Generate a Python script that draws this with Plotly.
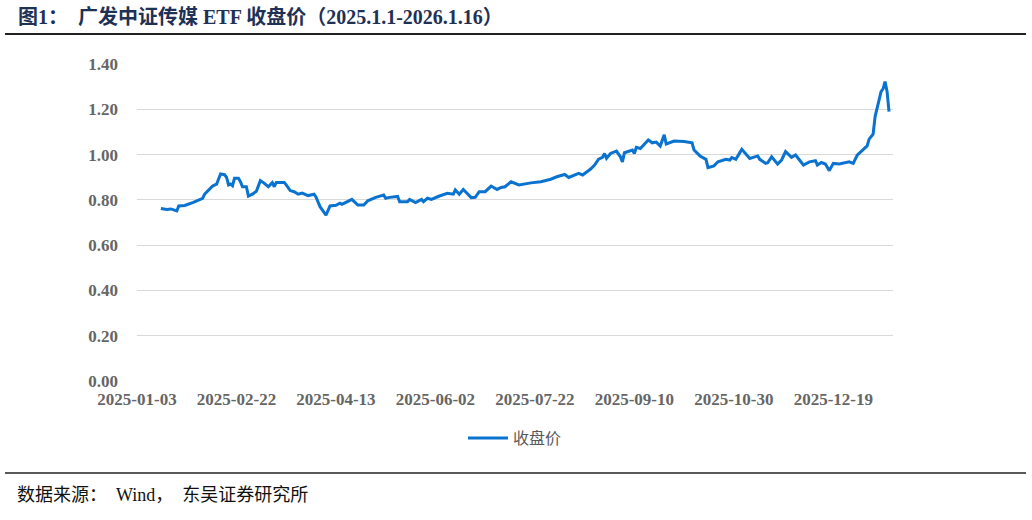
import plotly.graph_objects as go

# ---- data ----
dates = [
    "2025-01-15", "2025-01-18", "2025-01-20", "2025-01-23", "2025-01-24", "2025-01-27", "2025-01-31",
    "2025-02-05", "2025-02-06", "2025-02-10", "2025-02-12", "2025-02-14", "2025-02-16", "2025-02-17",
    "2025-02-18", "2025-02-19", "2025-02-20", "2025-02-21", "2025-02-23", "2025-02-24", "2025-02-25",
    "2025-02-27", "2025-02-28", "2025-03-02", "2025-03-04", "2025-03-06", "2025-03-08", "2025-03-10",
    "2025-03-12", "2025-03-13", "2025-03-14", "2025-03-18", "2025-03-19", "2025-03-21", "2025-03-23",
    "2025-03-25", "2025-03-27", "2025-03-30", "2025-04-02", "2025-04-03", "2025-04-05", "2025-04-08",
    "2025-04-10", "2025-04-13", "2025-04-15", "2025-04-16", "2025-04-18", "2025-04-21", "2025-04-24",
    "2025-04-27", "2025-04-29", "2025-05-03", "2025-05-07", "2025-05-08", "2025-05-10", "2025-05-14",
    "2025-05-15", "2025-05-19", "2025-05-20", "2025-05-23", "2025-05-26", "2025-05-27", "2025-05-29",
    "2025-05-31", "2025-06-04", "2025-06-08", "2025-06-11", "2025-06-12", "2025-06-14", "2025-06-16",
    "2025-06-20", "2025-06-22", "2025-06-24", "2025-06-27", "2025-06-30", "2025-07-03", "2025-07-05",
    "2025-07-07", "2025-07-10", "2025-07-12", "2025-07-14", "2025-07-20", "2025-07-25", "2025-07-30",
    "2025-08-02", "2025-08-06", "2025-08-08", "2025-08-13", "2025-08-15", "2025-08-19", "2025-08-21",
    "2025-08-23", "2025-08-25", "2025-08-26", "2025-08-27", "2025-08-29", "2025-09-01", "2025-09-03",
    "2025-09-04", "2025-09-05", "2025-09-09", "2025-09-10", "2025-09-11", "2025-09-13", "2025-09-15",
    "2025-09-17", "2025-09-19", "2025-09-21", "2025-09-23", "2025-09-25", "2025-09-26", "2025-09-30",
    "2025-10-05", "2025-10-09", "2025-10-10", "2025-10-13", "2025-10-16", "2025-10-17", "2025-10-20",
    "2025-10-22", "2025-10-26", "2025-10-28", "2025-10-29", "2025-10-31", "2025-11-03", "2025-11-05",
    "2025-11-07", "2025-11-11", "2025-11-12", "2025-11-15", "2025-11-16", "2025-11-18", "2025-11-21",
    "2025-11-23", "2025-11-25", "2025-11-28", "2025-11-30", "2025-12-04", "2025-12-07", "2025-12-10",
    "2025-12-11", "2025-12-13", "2025-12-15", "2025-12-17", "2025-12-19", "2025-12-22", "2025-12-27",
    "2025-12-29", "2025-12-31", "2026-01-05", "2026-01-06", "2026-01-08", "2026-01-09", "2026-01-12",
    "2026-01-13", "2026-01-14", "2026-01-15", "2026-01-16",
]
close_price = [
    0.762, 0.758, 0.760, 0.751, 0.773, 0.775, 0.788,
    0.807, 0.825, 0.861, 0.869, 0.914, 0.911, 0.900,
    0.866, 0.870, 0.862, 0.895, 0.895, 0.880, 0.858,
    0.858, 0.817, 0.825, 0.838, 0.885, 0.873, 0.858,
    0.876, 0.858, 0.877, 0.877, 0.866, 0.841, 0.836,
    0.825, 0.830, 0.819, 0.825, 0.812, 0.770, 0.732,
    0.773, 0.776, 0.785, 0.780, 0.789, 0.802, 0.777,
    0.777, 0.796, 0.811, 0.821, 0.807, 0.811, 0.815,
    0.792, 0.792, 0.802, 0.788, 0.802, 0.792, 0.807,
    0.802, 0.817, 0.829, 0.825, 0.844, 0.825, 0.846,
    0.810, 0.811, 0.836, 0.836, 0.861, 0.846, 0.855,
    0.858, 0.880, 0.873, 0.866, 0.875, 0.880, 0.891,
    0.902, 0.912, 0.899, 0.917, 0.910, 0.936, 0.954,
    0.980, 0.988, 1.005, 0.983, 1.005, 1.015, 0.990,
    0.968, 1.008, 1.020, 1.005, 1.032, 1.027, 1.047,
    1.064, 1.052, 1.055, 1.038, 1.087, 1.047, 1.060,
    1.058, 1.052, 1.020, 0.994, 0.979, 0.942, 0.950,
    0.968, 0.979, 0.976, 0.987, 0.979, 1.023, 1.005,
    0.983, 0.994, 0.979, 0.961, 0.964, 0.990, 0.958,
    0.976, 1.013, 0.988, 0.998, 0.954, 0.968, 0.973,
    0.954, 0.965, 0.958, 0.929, 0.961, 0.958, 0.968,
    0.961, 0.997, 1.038, 1.068, 1.090, 1.168, 1.278,
    1.290, 1.322, 1.280, 1.190,
]
series_name = "收盘价"
x_ticks = ["2025-01-03", "2025-02-22", "2025-04-13", "2025-06-02",
           "2025-07-22", "2025-09-10", "2025-10-30", "2025-12-19"]
y_ticks = [0.0, 0.2, 0.4, 0.6, 0.8, 1.0, 1.2, 1.4]
title_label = "图1："
title_text = "广发中证传媒 ETF 收盘价（2025.1.1-2026.1.16）"
source_text = "数据来源：\u00a0\u00a0Wind，\u00a0\u00a0东吴证券研究所"

# ---- figure ----
W, H = 1032, 520
L, R, T, B = 137, 139, 64, 139
pw, ph = W - L - R, H - T - B

def px_x(x):
    return (x - L) / pw

def px_y(y):
    return (H - B - y) / ph

serif = "Liberation Serif, 'Times New Roman', 'Noto Sans CJK SC', serif"
tick_color = "#666666"

fig = go.Figure()
fig.add_trace(go.Scatter(
    x=dates, y=close_price, mode="lines", name=series_name,
    line=dict(color="#0a72cf", width=3),
))

fig.update_layout(
    width=W, height=H,
    margin=dict(l=L, r=R, t=T, b=B),
    paper_bgcolor="white", plot_bgcolor="white",
    showlegend=True,
    legend=dict(
        orientation="h", x=0.5, xanchor="center",
        y=px_y(438), yanchor="middle",
        font=dict(family="'Noto Sans CJK SC', sans-serif", size=16, color="#595959"),
        itemwidth=40,
    ),
    xaxis=dict(
        type="date",
        range=["2025-01-03", "2026-01-18"],
        tickvals=x_ticks, ticktext=x_ticks,
        showgrid=False, showline=False, zeroline=False,
        ticks="", ticklabelstandoff=6,
        tickfont=dict(family=serif, size=17, color=tick_color, weight="bold"),
    ),
    yaxis=dict(
        range=[0, 1.4],
        tickvals=y_ticks, tickformat=".2f",
        showgrid=True, gridcolor="#d9d9d9", gridwidth=1,
        zeroline=False, showline=False,
        ticks="", ticklabelstandoff=18,
        tickfont=dict(family=serif, size=17, color=tick_color, weight="bold"),
    ),
)

title_font = dict(family="'Liberation Serif', 'Noto Sans CJK SC', serif", size=20, color="#1f3155")
fig.add_annotation(
    xref="paper", yref="paper", x=px_x(16), y=px_y(17),
    xanchor="left", yanchor="middle", showarrow=False,
    text="<b>" + title_label + "</b>", font=title_font,
)
fig.add_annotation(
    xref="paper", yref="paper", x=px_x(76), y=px_y(17),
    xanchor="left", yanchor="middle", showarrow=False,
    text="<b>" + title_text + "</b>", font=title_font,
)
fig.add_shape(type="line", xref="paper", yref="paper",
              x0=px_x(5), x1=px_x(1026), y0=px_y(34), y1=px_y(34),
              line=dict(color="#222222", width=2))
fig.add_shape(type="line", xref="paper", yref="paper",
              x0=px_x(5), x1=px_x(1026), y0=px_y(473), y1=px_y(473),
              line=dict(color="#222222", width=1.5))
fig.add_annotation(
    xref="paper", yref="paper", x=px_x(15), y=px_y(495),
    xanchor="left", yanchor="middle", showarrow=False,
    text=source_text,
    font=dict(family="'Liberation Serif', 'Noto Sans CJK SC', serif", size=18, color="#111111"),
)

fig.write_html("out.html", config={"displayModeBar": False},
               post_script="document.body.style.margin='0';")
